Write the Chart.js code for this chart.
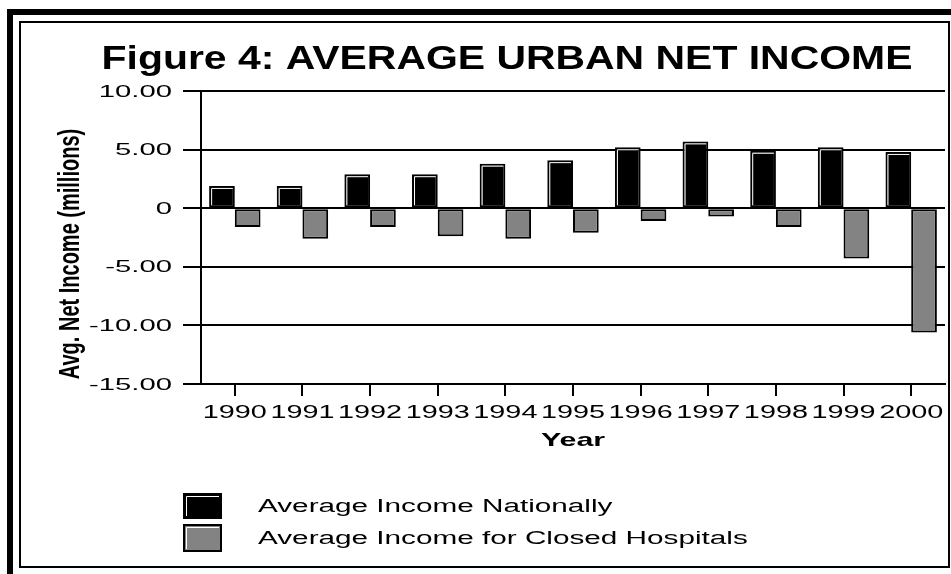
<!DOCTYPE html>
<html>
<head>
<meta charset="utf-8">
<script src="https://cdn.jsdelivr.net/npm/chart.js@4.4.0/dist/chart.umd.min.js"></script>
<style>
html, body { margin: 0; padding: 0; background: #fff; }
#wrap { width: 951px; height: 574px; }
</style>
</head>
<body>
<div id="wrap"><canvas id="chart" width="951" height="574"></canvas></div>
<script>
// --- data ---
const years = ['1990', '1991', '1992', '1993', '1994', '1995', '1996', '1997', '1998', '1999', '2000'];
const nationalIncome = [1.9, 1.9, 2.9, 2.9, 3.8, 4.1, 5.2, 5.7, 4.9, 5.2, 4.8];
const closedIncome = [-1.6, -2.6, -1.6, -2.4, -2.6, -2.1, -1.1, -0.7, -1.6, -4.3, -10.6];
const yTicks = [-15, -10, -5, 0, 5, 10];
const yTickLabels = ['-15.00', '-10.00', '-5.00', '0', '5.00', '10.00'];
const seriesNames = ['Average Income Nationally', 'Average Income for Closed Hospitals'];
const seriesColors = ['#000000', '#838383'];

const FONT = '"Liberation Sans", Arial, sans-serif';

// the original looks horizontally stretched, so text gets an x scale
function stretchText(ctx, text, x, y, font, sx, align) {
    ctx.save();
    ctx.font = font;
    ctx.fillStyle = '#000';
    ctx.textAlign = align;
    ctx.textBaseline = 'middle';
    ctx.translate(x, y);
    ctx.scale(sx, 1);
    ctx.fillText(text, 0, 0);
    ctx.restore();
}

// legend swatch with a thin white highlight inside top/left edge
function bevelBox(ctx, left, top, right, bottom, fill) {
    ctx.save();
    ctx.fillStyle = fill;
    ctx.fillRect(left, top, right - left, bottom - top);
    ctx.strokeStyle = '#000';
    ctx.lineWidth = 2;
    ctx.strokeRect(left + 1, top + 1, right - left - 2, bottom - top - 2);
    ctx.strokeStyle = '#fff';
    ctx.lineWidth = 1;
    ctx.beginPath();
    ctx.moveTo(left + 3.5, bottom - 3);
    ctx.lineTo(left + 3.5, top + 3.5);
    ctx.lineTo(right - 3, top + 3.5);
    ctx.stroke();
    ctx.restore();
}

const framePlugin = {
    id: 'frame',
    beforeDraw(chart) {
        const ctx = chart.ctx;
        ctx.save();
        ctx.fillStyle = '#fff';
        ctx.fillRect(0, 0, chart.width, chart.height);
        ctx.fillStyle = '#000';
        ctx.fillRect(7, 9, 6, chart.height - 9);   // thick outer frame, left
        ctx.fillRect(7, 9, chart.width - 7, 6);    // thick outer frame, top
        ctx.strokeStyle = '#000';
        ctx.lineWidth = 2;
        ctx.strokeRect(20, 22, 929, 545);          // thin inner frame
        ctx.restore();
    }
};

const bevelPlugin = {
    id: 'bevel',
    afterDatasetsDraw(chart) {
        const ctx = chart.ctx;
        ctx.save();
        ctx.strokeStyle = '#fff';
        ctx.lineWidth = 1;
        // only the black (national) bars show the highlight
        chart.getDatasetMeta(0).data.forEach(bar => {
            const { x, y, base, width } = bar.getProps(['x', 'y', 'base', 'width'], true);
            const left = x - width / 2, right = x + width / 2;
            const top = Math.min(y, base), bottom = Math.max(y, base);
            if (bottom - top < 6) return;
            ctx.beginPath();
            ctx.moveTo(left + 2.5, bottom - 2);
            ctx.lineTo(left + 2.5, top + 2.5);
            ctx.lineTo(right - 2, top + 2.5);
            ctx.stroke();
        });
        ctx.restore();
    }
};

const textPlugin = {
    id: 'texts',
    afterDraw(chart) {
        const ctx = chart.ctx;
        const xs = chart.scales.x, ys = chart.scales.y;
        const area = chart.chartArea;

        stretchText(ctx, 'Figure 4: AVERAGE URBAN NET INCOME', 507, 60, 'bold 33px ' + FONT, 1.24, 'center');

        years.forEach((yr, i) => {
            stretchText(ctx, yr, xs.getPixelForTick(i), 413, '18px ' + FONT, 1.6, 'center');
        });
        yTicks.forEach((v, i) => {
            stretchText(ctx, yTickLabels[i], 172, ys.getPixelForValue(v) + 1, '17px ' + FONT, 1.72, 'right');
        });

        stretchText(ctx, 'Year', (area.left + area.right) / 2, 441, 'bold 19px ' + FONT, 1.6, 'center');

        // rotated y title, stretched across its thickness
        ctx.save();
        ctx.font = 'bold 20px ' + FONT;
        ctx.fillStyle = '#000';
        ctx.textAlign = 'center';
        ctx.textBaseline = 'middle';
        ctx.translate(71, 254);
        ctx.rotate(-Math.PI / 2);
        ctx.scale(1, 1.5);
        ctx.fillText('Avg. Net Income (millions)', 0, 0);
        ctx.restore();

        // legend
        const rows = [[493, 519, 507], [524, 552, 539]];
        seriesNames.forEach((name, i) => {
            bevelBox(ctx, 183, rows[i][0], 222, rows[i][1], seriesColors[i]);
            stretchText(ctx, name, 258, rows[i][2], '18px ' + FONT, 1.65, 'left');
        });
    }
};

new Chart(document.getElementById('chart'), {
    type: 'bar',
    data: {
        labels: years,
        datasets: [
            {
                label: seriesNames[0],
                data: nationalIncome,
                backgroundColor: seriesColors[0],
                borderColor: '#000',
                borderWidth: 2,
                borderSkipped: false,
                categoryPercentage: 0.76,
                barPercentage: 1.0
            },
            {
                label: seriesNames[1],
                data: closedIncome,
                backgroundColor: seriesColors[1],
                borderColor: '#000',
                borderWidth: 2,
                borderSkipped: false,
                categoryPercentage: 0.76,
                barPercentage: 1.0
            }
        ]
    },
    options: {
        responsive: false,
        animation: false,
        devicePixelRatio: 1,
        layout: { padding: { top: 91, right: 6, bottom: 0, left: 0 } },
        plugins: {
            legend: { display: false },
            title: { display: false },
            tooltip: { enabled: false }
        },
        scales: {
            x: {
                offset: true,
                grid: {
                    offset: false,
                    drawOnChartArea: false,
                    drawTicks: true,
                    tickLength: 12,
                    color: '#000',
                    lineWidth: 2
                },
                border: { display: true, color: '#000', width: 2 },
                ticks: { display: false },
                afterFit: s => { s.height = 190; }
            },
            y: {
                min: yTicks[0],
                max: yTicks[yTicks.length - 1],
                afterBuildTicks: s => { s.ticks = yTicks.map(v => ({ value: v })); },
                grid: {
                    color: '#000',
                    lineWidth: 2,
                    tickLength: 18,
                    drawTicks: true
                },
                border: { display: true, color: '#000', width: 2 },
                ticks: { display: false },
                afterFit: s => { s.width = 201; }
            }
        }
    },
    plugins: [framePlugin, bevelPlugin, textPlugin]
});
</script>
</body>
</html>
